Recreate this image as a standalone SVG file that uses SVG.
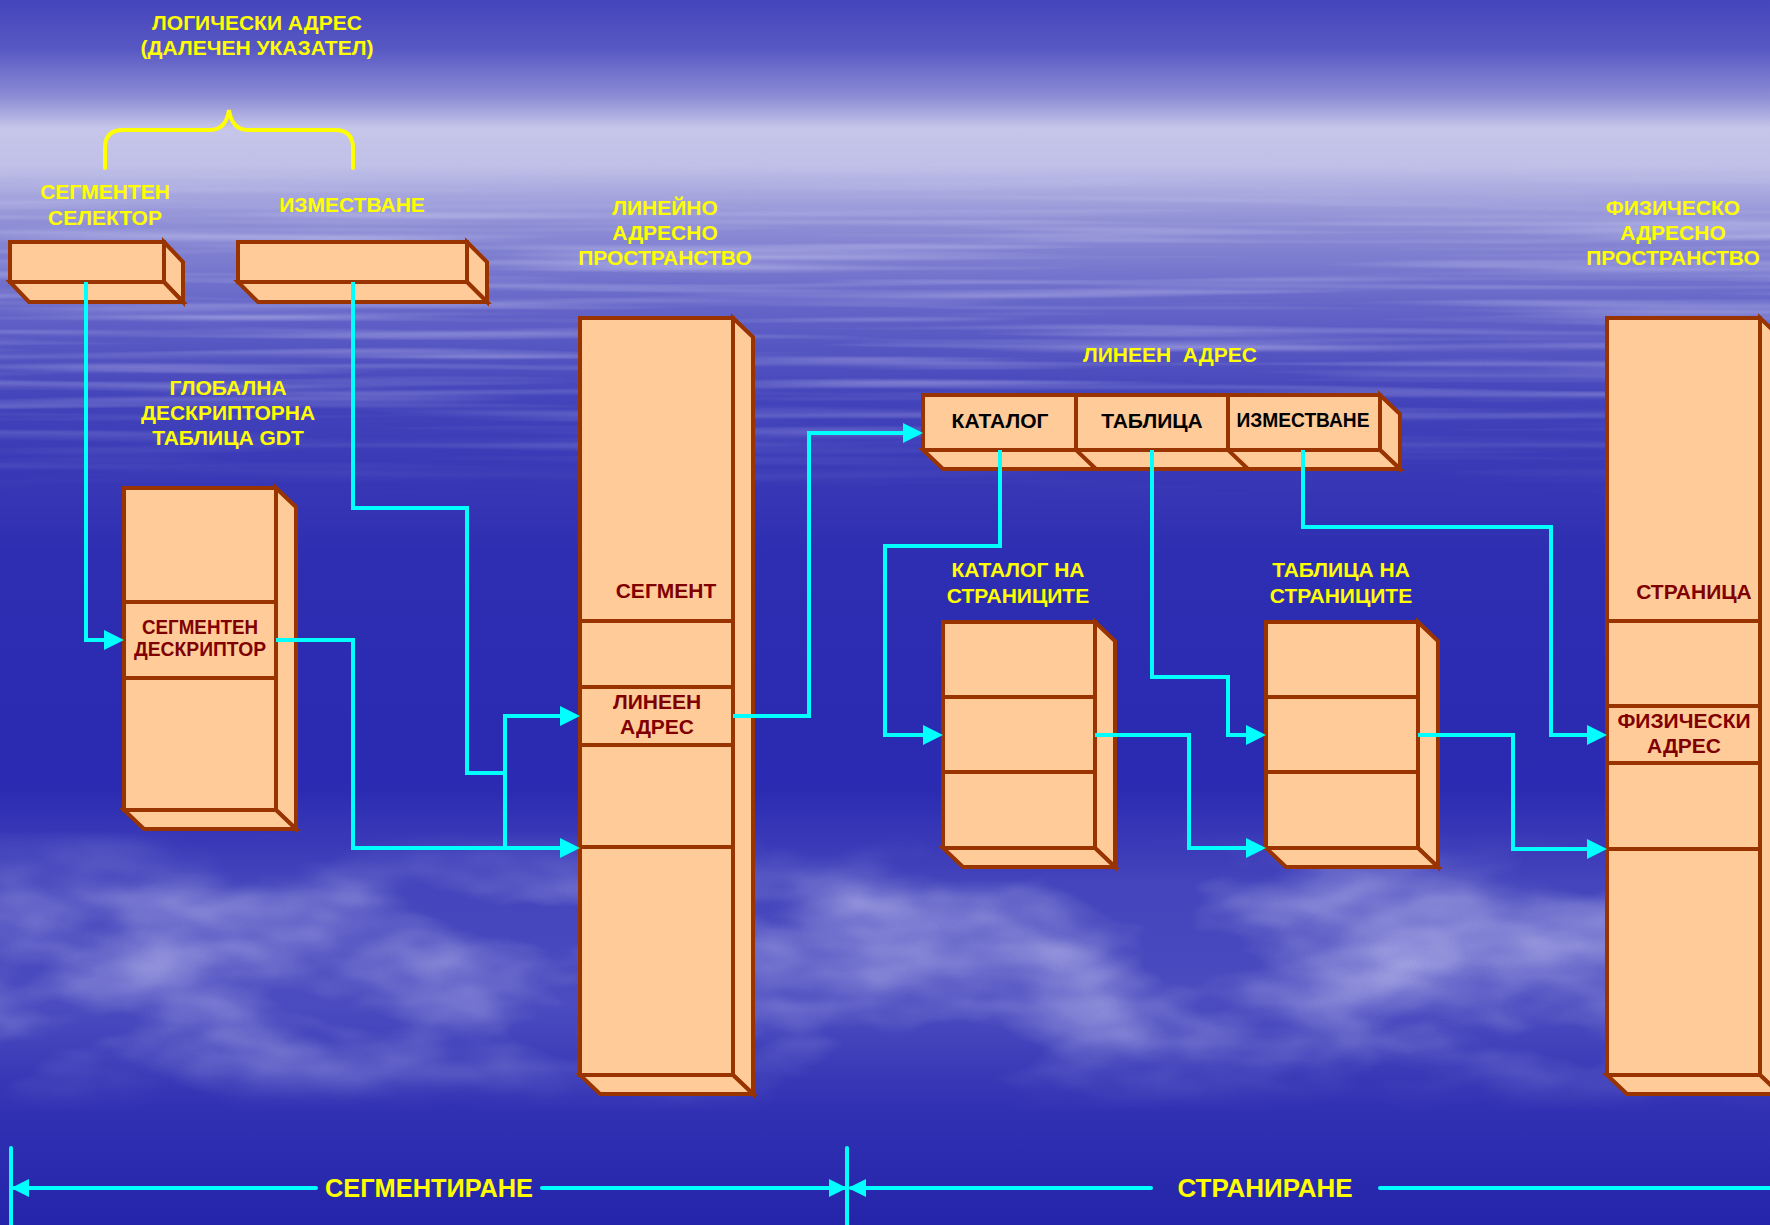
<svg xmlns="http://www.w3.org/2000/svg" width="1770" height="1225" viewBox="0 0 1770 1225">
<defs>
<style>
.box{fill:#FFCC99;stroke:#993300;stroke-width:4;stroke-linejoin:miter}
.div{stroke:#993300;stroke-width:4;fill:none}
.lbl{font-family:"Liberation Sans",Arial,sans-serif;font-weight:bold;font-size:21px;fill:#FFFF00;text-anchor:middle}
.cell{font-family:"Liberation Sans",Arial,sans-serif;font-weight:bold;font-size:21px;fill:#800000;text-anchor:middle}
.fld{font-family:"Liberation Sans",Arial,sans-serif;font-weight:bold;font-size:21px;fill:#000000;text-anchor:middle}
.dimt{font-family:"Liberation Sans",Arial,sans-serif;font-weight:bold;font-size:25px;fill:#FFFF00;text-anchor:middle}
.conn{fill:none;stroke:#00FFFF;stroke-width:4;stroke-linejoin:miter}
.dim{fill:none;stroke:#00FFFF;stroke-width:4;stroke-linecap:round}
</style>
<linearGradient id="sky" x1="0" y1="0" x2="0" y2="1225" gradientUnits="userSpaceOnUse">
<stop offset="0" stop-color="#4545bc"/>
<stop offset="0.04" stop-color="#5858c4"/>
<stop offset="0.08" stop-color="#8e8ed6"/>
<stop offset="0.105" stop-color="#c6c6ea"/>
<stop offset="0.135" stop-color="#c0c0e8"/>
<stop offset="0.18" stop-color="#9090d6"/>
<stop offset="0.25" stop-color="#6464c8"/>
<stop offset="0.33" stop-color="#4242ba"/>
<stop offset="0.45" stop-color="#2e2eb2"/>
<stop offset="0.64" stop-color="#2a2ab2"/>
<stop offset="0.72" stop-color="#4444bc"/>
<stop offset="0.82" stop-color="#4c4cc0"/>
<stop offset="0.9" stop-color="#3232b4"/>
<stop offset="1" stop-color="#2424aa"/>
</linearGradient>
<filter id="fClouds" x="0" y="0" width="1770" height="1225" filterUnits="userSpaceOnUse">
<feTurbulence type="fractalNoise" baseFrequency="0.004 0.009" numOctaves="4" seed="7"/>
<feColorMatrix type="matrix" values="0 0 0 0 0.62  0 0 0 0 0.62  0 0 0 0 0.9  1.8 0 0 0 -0.72"/>
</filter>
<filter id="fStreaks" x="0" y="0" width="1770" height="1225" filterUnits="userSpaceOnUse">
<feTurbulence type="fractalNoise" baseFrequency="0.002 0.1" numOctaves="2" seed="3"/>
<feColorMatrix type="matrix" values="0 0 0 0 0.75  0 0 0 0 0.75  0 0 0 0 0.95  1.6 0 0 0 -0.7"/>
</filter>
<linearGradient id="gCl" x1="0" y1="830" x2="0" y2="1110" gradientUnits="userSpaceOnUse">
<stop offset="0" stop-color="#000"/>
<stop offset="0.25" stop-color="#fff"/>
<stop offset="0.75" stop-color="#fff"/>
<stop offset="1" stop-color="#000"/>
</linearGradient>
<linearGradient id="gSt" x1="0" y1="160" x2="0" y2="500" gradientUnits="userSpaceOnUse">
<stop offset="0" stop-color="#000"/>
<stop offset="0.2" stop-color="#fff"/>
<stop offset="0.6" stop-color="#fff"/>
<stop offset="1" stop-color="#000"/>
</linearGradient>
<mask id="mCl" maskUnits="userSpaceOnUse" x="0" y="0" width="1770" height="1225"><rect x="0" y="0" width="1770" height="1225" fill="url(#gCl)"/></mask>
<mask id="mSt" maskUnits="userSpaceOnUse" x="0" y="0" width="1770" height="1225"><rect x="0" y="0" width="1770" height="1225" fill="url(#gSt)"/></mask>
<marker id="ah" markerUnits="userSpaceOnUse" markerWidth="20" markerHeight="20" viewBox="0 0 20 20" refX="16" refY="10" orient="auto"><path d="M0,0 L20,10 L0,20 z" fill="#00FFFF"/></marker>
<marker id="ahs" markerUnits="userSpaceOnUse" markerWidth="18" markerHeight="18" viewBox="0 0 18 18" refX="15" refY="9" orient="auto-start-reverse"><path d="M0,0 L18,9 L0,18 z" fill="#00FFFF"/></marker>
</defs>

<g id="background">
<rect x="0" y="0" width="1770" height="1225" fill="url(#sky)"/>
<rect x="0" y="0" width="1770" height="1225" filter="url(#fStreaks)" mask="url(#mSt)" opacity="0.6"/>
<rect x="0" y="0" width="1770" height="1225" filter="url(#fClouds)" mask="url(#mCl)" opacity="0.85"/>
</g>

<g id="title">
<text class="lbl" x="257" y="30">ЛОГИЧЕСКИ АДРЕС</text>
<text class="lbl" x="257" y="55">(ДАЛЕЧЕН УКАЗАТЕЛ)</text>
<path d="M105,168 V148 Q105,130 123,130 H210 Q226,130 229,110 Q232,130 248,130 H335 Q353,130 353,148 V168" fill="none" stroke="#FFFF00" stroke-width="4" stroke-linecap="round"/>
</g>

<g id="selector">
<text class="lbl" x="105" y="199">СЕГМЕНТЕН</text>
<text class="lbl" x="105" y="225">СЕЛЕКТОР</text>
<polygon class="box" points="164,242 183,262 183,302 164,282"/>
<polygon class="box" points="10,282 164,282 183,302 29,302"/>
<rect class="box" x="10" y="242" width="154" height="40"/>
</g>

<g id="offset">
<text class="lbl" x="352" y="212">ИЗМЕСТВАНЕ</text>
<polygon class="box" points="467,242 487,262 487,302 467,282"/>
<polygon class="box" points="238,282 467,282 487,302 258,302"/>
<rect class="box" x="238" y="242" width="229" height="40"/>
</g>

<g id="gdt">
<text class="lbl" x="228" y="395">ГЛОБАЛНА</text>
<text class="lbl" x="228" y="420">ДЕСКРИПТОРНА</text>
<text class="lbl" x="228" y="445">ТАБЛИЦА GDT</text>
<polygon class="box" points="276,488 296,507 296,829 276,810"/>
<polygon class="box" points="124,810 276,810 296,829 144,829"/>
<rect class="box" x="124" y="488" width="152" height="322"/>
<path class="div" d="M124,602 H276 M124,678 H276"/>
<text class="cell" x="200" y="634" font-size="20" textLength="116" lengthAdjust="spacingAndGlyphs">СЕГМЕНТЕН</text>
<text class="cell" x="200" y="656" font-size="20" textLength="132" lengthAdjust="spacingAndGlyphs">ДЕСКРИПТОР</text>
</g>

<g id="linear-space">
<text class="lbl" x="665" y="215">ЛИНЕЙНО</text>
<text class="lbl" x="665" y="240">АДРЕСНО</text>
<text class="lbl" x="665" y="265">ПРОСТРАНСТВО</text>
<polygon class="box" points="733,318 753,337 753,1094 733,1075"/>
<polygon class="box" points="580,1075 733,1075 753,1094 600,1094"/>
<rect class="box" x="580" y="318" width="153" height="757"/>
<path class="div" d="M580,621 H733 M580,687 H733 M580,745 H733 M580,847 H733"/>
<text class="cell" x="666" y="598">СЕГМЕНТ</text>
<text class="cell" x="657" y="709">ЛИНЕЕН</text>
<text class="cell" x="657" y="734">АДРЕС</text>
</g>

<g id="linear-address">
<text class="lbl" x="1170" y="362" xml:space="preserve">ЛИНЕЕН  АДРЕС</text>
<polygon class="box" points="1380,395 1400,414 1400,469 1380,450"/>
<polygon class="box" points="923,450 1380,450 1400,469 943,469"/>
<rect class="box" x="923" y="395" width="457" height="55"/>
<path class="div" d="M1076,395 V450 L1096,469 M1228,395 V450 L1248,469"/>
<text class="fld" x="1000" y="428">КАТАЛОГ</text>
<text class="fld" x="1152" y="428">ТАБЛИЦА</text>
<text class="fld" x="1303" y="427" font-size="19" textLength="133" lengthAdjust="spacingAndGlyphs">ИЗМЕСТВАНЕ</text>
</g>

<g id="page-directory">
<text class="lbl" x="1018" y="577">КАТАЛОГ НА</text>
<text class="lbl" x="1018" y="603">СТРАНИЦИТЕ</text>
<polygon class="box" points="1095,622 1115,641 1115,867 1095,848"/>
<polygon class="box" points="943,848 1095,848 1115,867 963,867"/>
<rect class="box" x="943" y="622" width="152" height="226"/>
<path class="div" d="M943,697 H1095 M943,772 H1095"/>
</g>

<g id="page-table">
<text class="lbl" x="1341" y="577">ТАБЛИЦА НА</text>
<text class="lbl" x="1341" y="603">СТРАНИЦИТЕ</text>
<polygon class="box" points="1418,622 1438,641 1438,867 1418,848"/>
<polygon class="box" points="1266,848 1418,848 1438,867 1286,867"/>
<rect class="box" x="1266" y="622" width="152" height="226"/>
<path class="div" d="M1266,697 H1418 M1266,772 H1418"/>
</g>

<g id="physical-space">
<text class="lbl" x="1673" y="215">ФИЗИЧЕСКО</text>
<text class="lbl" x="1673" y="240">АДРЕСНО</text>
<text class="lbl" x="1673" y="265">ПРОСТРАНСТВО</text>
<polygon class="box" points="1760,318 1780,337 1780,1094 1760,1075"/>
<polygon class="box" points="1607,1075 1760,1075 1780,1094 1627,1094"/>
<rect class="box" x="1607" y="318" width="153" height="757"/>
<path class="div" d="M1607,621 H1760 M1607,706 H1760 M1607,763 H1760 M1607,849 H1760"/>
<text class="cell" x="1694" y="599">СТРАНИЦА</text>
<text class="cell" x="1684" y="728">ФИЗИЧЕСКИ</text>
<text class="cell" x="1684" y="753">АДРЕС</text>
</g>

<g id="connectors">
<path class="conn" d="M86,282 V640 H120" marker-end="url(#ah)"/>
<path class="conn" d="M276,640 H353 V848 H576" marker-end="url(#ah)"/>
<path class="conn" d="M353,282 V508 H467 V773 H505"/>
<path class="conn" d="M505,848 V716 H576" marker-end="url(#ah)"/>
<path class="conn" d="M733,716 H809 V433 H919" marker-end="url(#ah)"/>
<path class="conn" d="M1000,450 V546 H885 V735 H939" marker-end="url(#ah)"/>
<path class="conn" d="M1095,735 H1189 V848 H1262" marker-end="url(#ah)"/>
<path class="conn" d="M1152,450 V677 H1228 V735 H1262" marker-end="url(#ah)"/>
<path class="conn" d="M1303,450 V527 H1551 V735 H1603" marker-end="url(#ah)"/>
<path class="conn" d="M1418,735 H1513 V849 H1603" marker-end="url(#ah)"/>
</g>

<g id="phases">
<path class="dim" d="M11,1148 V1230 M847,1148 V1230"/>
<path class="dim" d="M14,1188 H316" marker-start="url(#ahs)"/>
<path class="dim" d="M542,1188 H844" marker-end="url(#ahs)"/>
<path class="dim" d="M851,1188 H1151" marker-start="url(#ahs)"/>
<path class="dim" d="M1380,1188 H1780"/>
<text class="dimt" x="429" y="1197" textLength="208" lengthAdjust="spacingAndGlyphs">СЕГМЕНТИРАНЕ</text>
<text class="dimt" x="1265" y="1197" textLength="175" lengthAdjust="spacingAndGlyphs">СТРАНИРАНЕ</text>
</g>
</svg>
